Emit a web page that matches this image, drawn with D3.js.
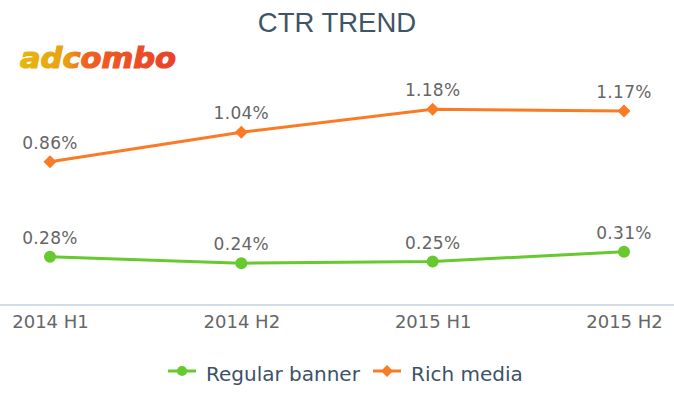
<!DOCTYPE html>
<html>
<head>
<meta charset="utf-8">
<script src="https://cdn.jsdelivr.net/npm/d3@7"></script>
<style>
  html, body { margin: 0; padding: 0; background: #fff; }
  svg { display: block; }
</style>
</head>
<body>
<svg id="chart" width="674" height="395"></svg>
<script>
const categories = ["2014 H1", "2014 H2", "2015 H1", "2015 H2"];
const regularBanner = [0.28, 0.24, 0.25, 0.31];
const richMedia = [0.86, 1.04, 1.18, 1.17];
const seriesNames = ["Regular banner", "Rich media"];
const titleText = "CTR TREND";
const logoText = "adcombo";

const W = 674, H = 395;
const svg = d3.select("#chart");

const green = "#66c92e", orange = "#fb7b25";

const x = d3.scalePoint().domain(categories).range([50, 624]);
const y = d3.scaleLinear().domain([0, 1.2]).range([302.5, 106]);

// defs: gradient for logo
const defs = svg.append("defs");
const grad = defs.append("linearGradient").attr("id", "logoGrad")
  .attr("gradientUnits", "userSpaceOnUse")
  .attr("x1", 18).attr("x2", 180).attr("y1", 0).attr("y2", 0);
grad.append("stop").attr("offset", "0%").attr("stop-color", "#e6b80e");
grad.append("stop").attr("offset", "30%").attr("stop-color", "#e9a012");
grad.append("stop").attr("offset", "42%").attr("stop-color", "#ef6020");
grad.append("stop").attr("offset", "100%").attr("stop-color", "#e8402a");

// title
svg.append("text")
  .attr("x", W / 2).attr("y", 32)
  .attr("text-anchor", "middle")
  .attr("font-family", "'Liberation Sans', Arial, sans-serif")
  .attr("font-size", 27.5)
  .attr("fill", "#3e5566")
  .text(titleText);

// logo
svg.append("text")
  .attr("x", 20).attr("y", 68)
  .attr("font-family", "'DejaVu Sans', sans-serif")
  .attr("font-weight", "bold")
  .attr("font-style", "italic")
  .attr("font-size", 28)
  .attr("textLength", 156)
  .attr("lengthAdjust", "spacingAndGlyphs")
  .attr("fill", "url(#logoGrad)")
  .attr("stroke", "url(#logoGrad)")
  .attr("stroke-width", 1.2)
  .text(logoText);

// x axis
const xAxis = d3.axisBottom(x).tickSize(0).tickPadding(0);
const gx = svg.append("g").attr("transform", "translate(0,305)").call(xAxis);
gx.select(".domain").remove();
gx.append("line").attr("x1", 0).attr("x2", W).attr("y1", 0).attr("y2", 0)
  .attr("stroke", "#c2d1df").attr("stroke-width", 1.6);
gx.selectAll(".tick text")
  .attr("y", 23)
  .attr("dy", null)
  .attr("font-family", "'DejaVu Sans', sans-serif")
  .attr("font-size", 18)
  .attr("fill", "#666");

const line = d3.line().x((d, i) => x(categories[i])).y(d => y(d));

function drawSeries(values, color, marker) {
  const g = svg.append("g");
  g.append("path").datum(values)
    .attr("d", line)
    .attr("fill", "none")
    .attr("stroke", color)
    .attr("stroke-width", 3);
  g.selectAll("path.m").data(values).enter().append("path")
    .attr("class", "m")
    .attr("transform", (d, i) => `translate(${x(categories[i])},${y(d)})`)
    .attr("d", marker === "circle" ? d3.symbol(d3.symbolCircle, 113)() : "M0,-6.5L6.5,0L0,6.5L-6.5,0Z")
    .attr("fill", color);
  g.selectAll("text").data(values).enter().append("text")
    .attr("x", (d, i) => x(categories[i]))
    .attr("y", d => y(d) - 13)
    .attr("text-anchor", "middle")
    .attr("font-family", "'DejaVu Sans', sans-serif")
    .attr("font-size", 17)
    .attr("letter-spacing", 0.3)
    .attr("fill", "#666")
    .text(d => d.toFixed(2) + "%");
}

drawSeries(regularBanner, green, "circle");
drawSeries(richMedia, orange, "diamond");

// legend
const legendItems = [
  { name: seriesNames[0], color: green, marker: "circle", x0: 168 },
  { name: seriesNames[1], color: orange, marker: "diamond", x0: 373 }
];
const lg = svg.append("g");
legendItems.forEach(it => {
  const g = lg.append("g").attr("transform", `translate(${it.x0},371)`);
  g.append("line").attr("x1", 0).attr("x2", 28).attr("y1", 0).attr("y2", 0)
    .attr("stroke", it.color).attr("stroke-width", 3);
  g.append("path")
    .attr("transform", "translate(14,0)")
    .attr("d", it.marker === "circle" ? d3.symbol(d3.symbolCircle, 80)() : "M0,-6L6,0L0,6L-6,0Z")
    .attr("fill", it.color);
  g.append("text")
    .attr("x", 38).attr("y", 10)
    .attr("font-family", "'DejaVu Sans', sans-serif")
    .attr("font-size", 20)
    .attr("fill", "#3d5268")
    .text(it.name);
});
</script>
</body>
</html>
